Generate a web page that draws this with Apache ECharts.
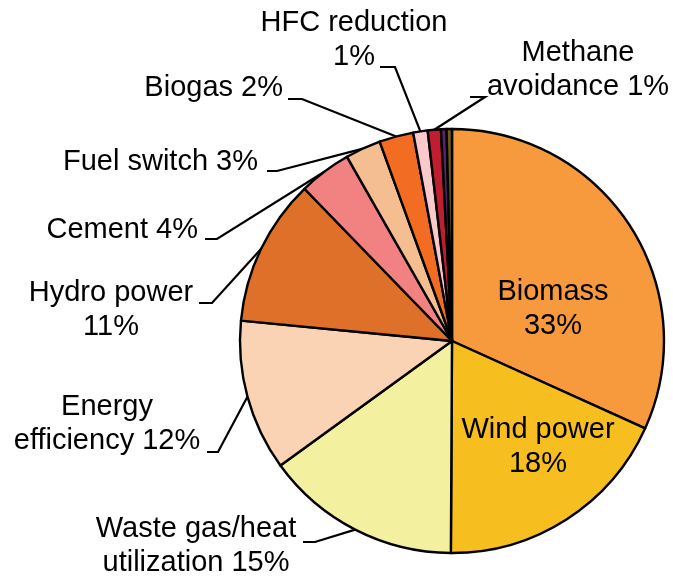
<!DOCTYPE html>
<html><head><meta charset="utf-8">
<script src="https://cdn.jsdelivr.net/npm/echarts@6/dist/echarts.min.js"></script>
<style>html,body{margin:0;padding:0;background:#fff}#c{width:673px;height:580px}</style>
</head><body><div id="c"></div>
<script>
// ---- data ----
const categories = ['Biomass','Wind power','Waste gas/heat utilization','Energy efficiency','Hydro power','Cement','Fuel switch','Biogas','HFC reduction','Methane avoidance','Other A','Other B'];
const shares = [31.7, 18.3, 14.9, 11.5, 11.2, 4.0, 2.7, 2.6, 1.1, 1.0, 0.42, 0.41];
const labelTexts = ['Biomass\n33%','Wind power\n18%','Waste gas/heat\nutilization 15%','Energy\nefficiency 12%','Hydro power\n11%','Cement 4%','Fuel switch 3%','Biogas 2%','HFC reduction\n1%','Methane\navoidance 1%','',''];
const sliceColors = ['#F7993D','#F6BE1E','#F3F0A0','#FAD3B5','#DE7029','#F28181','#F4BE91','#F26C22','#F9C9CC','#BE1E2D','#5A2468','#6E5E14'];

// ---- label layout (positions only) ----
// x,y: label anchor (block middle); tick: [xNearPie, xNearText, y]
const labelPlace = [
  {x:553, y:309, align:'center', inside:true},
  {x:538, y:447, align:'center', inside:true},
  {x:196, y:546, align:'center', tick:[315,303,542]},
  {x:107, y:424, align:'center', tick:[218,207,452]},
  {x:111, y:310, align:'center', tick:[212,199,303]},
  {x:198, y:230, align:'right',  tick:[217,205,239]},
  {x:258, y:162, align:'right',  tick:[277,267,171]},
  {x:283, y:88,  align:'right',  tick:[302,288,99]},
  {x:354, y:40,  align:'center', tick:[395,380,67]},
  {x:578, y:70,  align:'center', tick:[485,470,97]},
  null, null
];

const CX = 452, CY = 341, R = 212;
const total = shares.reduce((a,b)=>a+b,0);
function edgePoint(i){
  let cum = 0; for (let k=0;k<i;k++) cum += shares[k];
  const a = (cum + shares[i]/2)/total*2*Math.PI;
  return [CX + R*Math.sin(a), CY - R*Math.cos(a)];
}

const data = categories.map((name,i)=>{
  const p = labelPlace[i];
  const item = {name, value: shares[i], itemStyle:{color: sliceColors[i]}};
  if (!p) { item.label = {show:false}; item.labelLine = {show:false}; }
  else if (p.inside) { item.label = {position:'inside'}; item.labelLine = {show:false}; }
  return item;
});

const chart = echarts.init(document.getElementById('c'), null, {renderer:'canvas'});
chart.setOption({
  animation:false,
  backgroundColor:'#fff',
  series:[{
    type:'pie',
    center:[CX, CY],
    radius:[0, R],
    startAngle:90,
    clockwise:true,
    avoidLabelOverlap:false,
    silent:true,
    itemStyle:{borderColor:'#000', borderWidth:2.4},
    label:{
      show:true, position:'outside',
      formatter: p => labelTexts[p.dataIndex],
      fontFamily:'Liberation Sans, Arial, sans-serif',
      fontSize:29, lineHeight:34, color:'#000'
    },
    labelLine:{show:true, length:10, length2:10, smooth:false, lineStyle:{color:'#000', width:2.2}},
    labelLayout: function(params){
      const p = labelPlace[params.dataIndex];
      if (!p) return {};
      const out = {x:p.x, y:p.y, align:p.align, verticalAlign:'middle'};
      if (p.tick) {
        const s = (params.labelLinePoints && params.labelLinePoints[0]) || edgePoint(params.dataIndex);
        out.labelLinePoints = [s, [p.tick[0], p.tick[2]], [p.tick[1], p.tick[2]]];
      }
      return out;
    },
    data
  }]
});
</script>
</body></html>
